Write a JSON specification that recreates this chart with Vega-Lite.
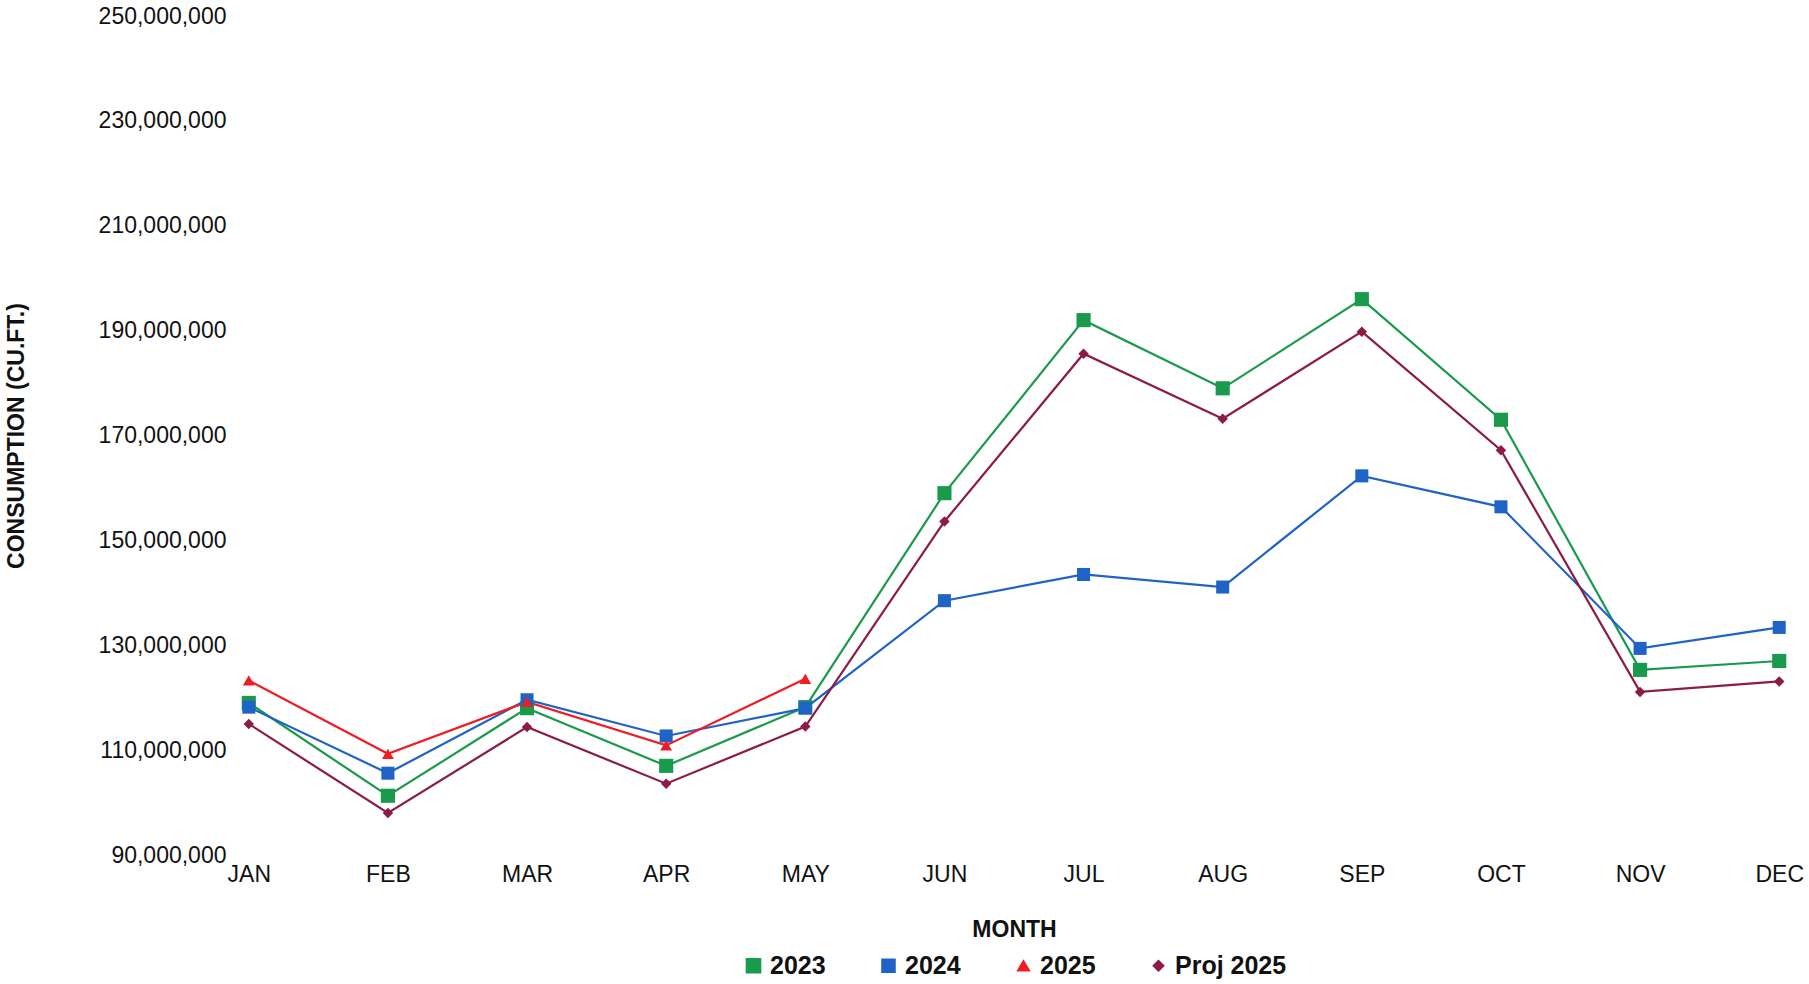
{
  "$schema": "https://vega.github.io/schema/vega-lite/v6.json",
  "width": 1809,
  "height": 984,
  "autosize": {"type": "fit", "contains": "padding"},
  "background": "white",
  "config": {
    "font": "Liberation Sans",
    "view": {"stroke": null},
    "axis": {"grid": false, "domain": false, "ticks": false, "labelFontSize": 23, "labelColor": "#111", "titleFontSize": 23, "titleFontWeight": "bold", "titleColor": "#111"},
    "legend": {"orient": "bottom", "direction": "horizontal", "labelFontSize": 25, "labelFontWeight": "bold", "labelColor": "#111", "symbolSize": 200, "columnPadding": 50, "offset": 12, "layout": {"bottom": {"anchor": "middle"}}}
  },
  "data": {"values": [
    {"month": "JAN", "series": "2023", "value": 119000000},
    {"month": "FEB", "series": "2023", "value": 101300000},
    {"month": "MAR", "series": "2023", "value": 118000000},
    {"month": "APR", "series": "2023", "value": 107000000},
    {"month": "MAY", "series": "2023", "value": 118200000},
    {"month": "JUN", "series": "2023", "value": 159000000},
    {"month": "JUL", "series": "2023", "value": 192000000},
    {"month": "AUG", "series": "2023", "value": 179000000},
    {"month": "SEP", "series": "2023", "value": 196000000},
    {"month": "OCT", "series": "2023", "value": 173000000},
    {"month": "NOV", "series": "2023", "value": 125300000},
    {"month": "DEC", "series": "2023", "value": 127000000},
    {"month": "JAN", "series": "2024", "value": 118200000},
    {"month": "FEB", "series": "2024", "value": 105600000},
    {"month": "MAR", "series": "2024", "value": 119600000},
    {"month": "APR", "series": "2024", "value": 112700000},
    {"month": "MAY", "series": "2024", "value": 118000000},
    {"month": "JUN", "series": "2024", "value": 138500000},
    {"month": "JUL", "series": "2024", "value": 143500000},
    {"month": "AUG", "series": "2024", "value": 141100000},
    {"month": "SEP", "series": "2024", "value": 162300000},
    {"month": "OCT", "series": "2024", "value": 156400000},
    {"month": "NOV", "series": "2024", "value": 129400000},
    {"month": "DEC", "series": "2024", "value": 133400000},
    {"month": "JAN", "series": "2025", "value": 123300000},
    {"month": "FEB", "series": "2025", "value": 109300000},
    {"month": "MAR", "series": "2025", "value": 119200000},
    {"month": "APR", "series": "2025", "value": 110900000},
    {"month": "MAY", "series": "2025", "value": 123600000},
    {"month": "JAN", "series": "Proj 2025", "value": 115000000},
    {"month": "FEB", "series": "Proj 2025", "value": 98000000},
    {"month": "MAR", "series": "Proj 2025", "value": 114400000},
    {"month": "APR", "series": "Proj 2025", "value": 103600000},
    {"month": "MAY", "series": "Proj 2025", "value": 114500000},
    {"month": "JUN", "series": "Proj 2025", "value": 153600000},
    {"month": "JUL", "series": "Proj 2025", "value": 185600000},
    {"month": "AUG", "series": "Proj 2025", "value": 173200000},
    {"month": "SEP", "series": "Proj 2025", "value": 189800000},
    {"month": "OCT", "series": "Proj 2025", "value": 167200000},
    {"month": "NOV", "series": "Proj 2025", "value": 121100000},
    {"month": "DEC", "series": "Proj 2025", "value": 123100000}
  ]},
  "encoding": {
    "x": {"field": "month", "type": "ordinal", "sort": ["JAN","FEB","MAR","APR","MAY","JUN","JUL","AUG","SEP","OCT","NOV","DEC"],
      "scale": {"type": "point", "padding": 0.02},
      "axis": {"title": "MONTH", "labelAngle": 0, "labelPadding": 8, "titlePadding": 32}},
    "y": {"field": "value", "type": "quantitative",
      "scale": {"domain": [90000000, 250000000], "nice": false, "zero": false},
      "axis": {"title": "CONSUMPTION (CU.FT.)", "values": [90000000,110000000,130000000,150000000,170000000,190000000,210000000,230000000,250000000], "format": ",d", "labelPadding": 20, "titlePadding": 70}},
    "color": {"field": "series", "type": "nominal",
      "scale": {"domain": ["2023","2024","2025","Proj 2025"], "range": ["#1a9a4c","#1f63c6","#ee1c24","#8c1b48"]},
      "legend": {"title": null}},
    "shape": {"field": "series", "type": "nominal",
      "scale": {"domain": ["2023","2024","2025","Proj 2025"], "range": ["square","square","triangle-up","diamond"]},
      "legend": {"title": null}}
  },
  "layer": [
    {"mark": {"type": "line", "strokeWidth": 2.2}},
    {"mark": {"type": "point", "filled": true, "opacity": 1}, "encoding": {
      "size": {"field": "series", "type": "nominal", "scale": {"domain": ["2023","2024","2025","Proj 2025"], "range": [200,110,110,70]}, "legend": null}}}
  ]
}
